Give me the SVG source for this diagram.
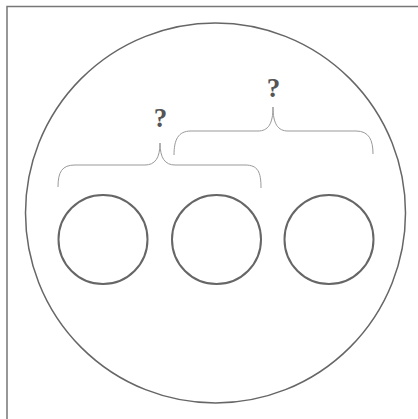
<svg xmlns="http://www.w3.org/2000/svg" width="418" height="419" viewBox="0 0 418 419">
<style>
.frame{stroke:#777;stroke-width:1.5;fill:none}
.big{stroke:#666;stroke-width:1.5;fill:none}
.small{stroke:#666;stroke-width:2;fill:none}
.brace{stroke:#999;stroke-width:1;fill:none}
.q{font-family:"Liberation Serif",serif;font-weight:bold;font-size:27px;fill:#555;text-anchor:middle}
</style>
<rect width="418" height="419" fill="#fff"/>
<path class="frame" d="M7,419 V6.5 H418"/>
<g id="outer"><circle class="big" cx="215.5" cy="213" r="190"/></g>
<g id="c1"><circle class="small" cx="103" cy="239.5" r="44.5"/></g>
<g id="c2"><circle class="small" cx="216.5" cy="239.5" r="44.5"/></g>
<g id="c3"><circle class="small" cx="329" cy="239.5" r="44.5"/></g>
<g id="connectors">
<path class="brace" d="M58,187 C58,172 62,165 75,165 L145,165 C155,165 160,158 160,143 C160,158 165,165 175,165 L245,165 C258,165 261,172 261,188"/>
<path class="brace" d="M174,155 C174,140 178,131 191,131 L258,131 C268,131 273,124 273,107 C273,124 278,131 288,131 L356,131 C369,131 373,140 373,154"/>
</g>
<g id="q1"><text class="q" x="160.5" y="127">?</text></g>
<g id="q2"><text class="q" x="273.5" y="96.5">?</text></g>
</svg>
